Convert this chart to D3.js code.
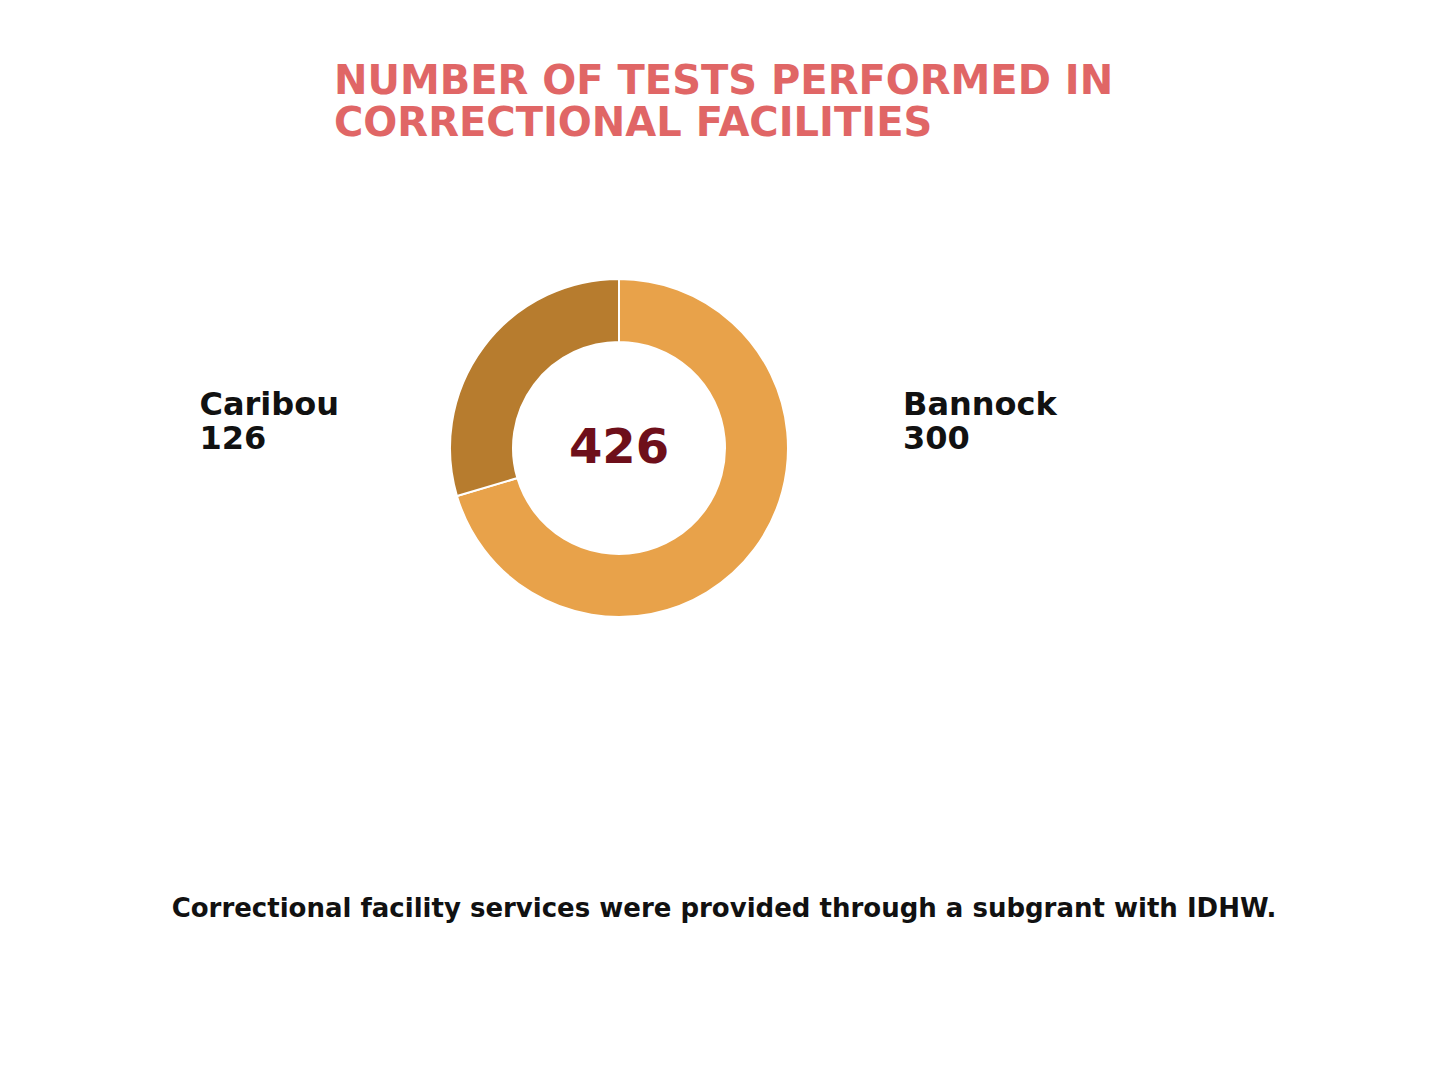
<!DOCTYPE html>
<html>
<head>
<meta charset="utf-8">
<script src="https://cdn.jsdelivr.net/npm/d3@7"></script>
<style>
  body { margin: 0; background: #fff; }
  text { font-family: "DejaVu Sans", sans-serif; font-weight: bold; }
</style>
</head>
<body>
<div id="chart"></div>
<script>
var titleLines = ['NUMBER OF TESTS PERFORMED IN', 'CORRECTIONAL FACILITIES']
var regions = ['Bannock', 'Caribou']
var tests = [300, 126]
var colors = ['#E8A24A', '#B77C2E']
var footnote = 'Correctional facility services were provided through a subgrant with IDHW.'

var W = 1448, H = 1086
var cx = 619, cy = 448
var outerR = 169, innerR = 106

var svg = d3.select('#chart').append('svg')
  .attr('width', W)
  .attr('height', H)

svg.append('text')
  .attr('x', 334)
  .attr('y', 94)
  .style('font-size', '40px')
  .style('fill', '#E06666')
  .selectAll('tspan')
  .data(titleLines)
  .enter().append('tspan')
  .attr('x', 334)
  .attr('dy', (d, i) => i == 0 ? 0 : 42)
  .text(d => d)

var data = regions.map((r, i) => ({ name: r, value: tests[i], color: colors[i] }))

var pie = d3.pie()
  .sort(null)
  .value(d => d.value)

var arc = d3.arc()
  .innerRadius(innerR)
  .outerRadius(outerR)

var g = svg.append('g')
  .attr('transform', 'translate(' + cx + ',' + cy + ')')

g.selectAll('.slice')
  .data(pie(data))
  .enter().append('path')
  .attr('class', 'slice')
  .attr('d', arc)
  .style('fill', d => d.data.color)
  .style('stroke', '#fff')
  .style('stroke-width', 2)

g.append('text')
  .attr('text-anchor', 'middle')
  .attr('y', 15)
  .style('font-size', '48px')
  .style('fill', '#6E0F1A')
  .text(d3.sum(tests))

// labels: right-hand slice label left aligned, left-hand block right aligned
var labelOffset = 284
data.forEach(function(d, i) {
  var t = g.append('text')
    .style('font-size', '32px')
    .style('fill', '#111')
  t.append('tspan').attr('x', 0).attr('y', -33).text(d.name)
  t.append('tspan').attr('x', 0).attr('y', 1).text(d.value)
  var w = t.node().getBBox().width
  var x = i == 0 ? labelOffset : -labelOffset - w + 4
  t.attr('transform', 'translate(' + x + ',0)')
})

svg.append('text')
  .attr('x', 724)
  .attr('y', 917)
  .attr('text-anchor', 'middle')
  .style('font-size', '26px')
  .style('fill', '#111')
  .text(footnote)
</script>
</body>
</html>
